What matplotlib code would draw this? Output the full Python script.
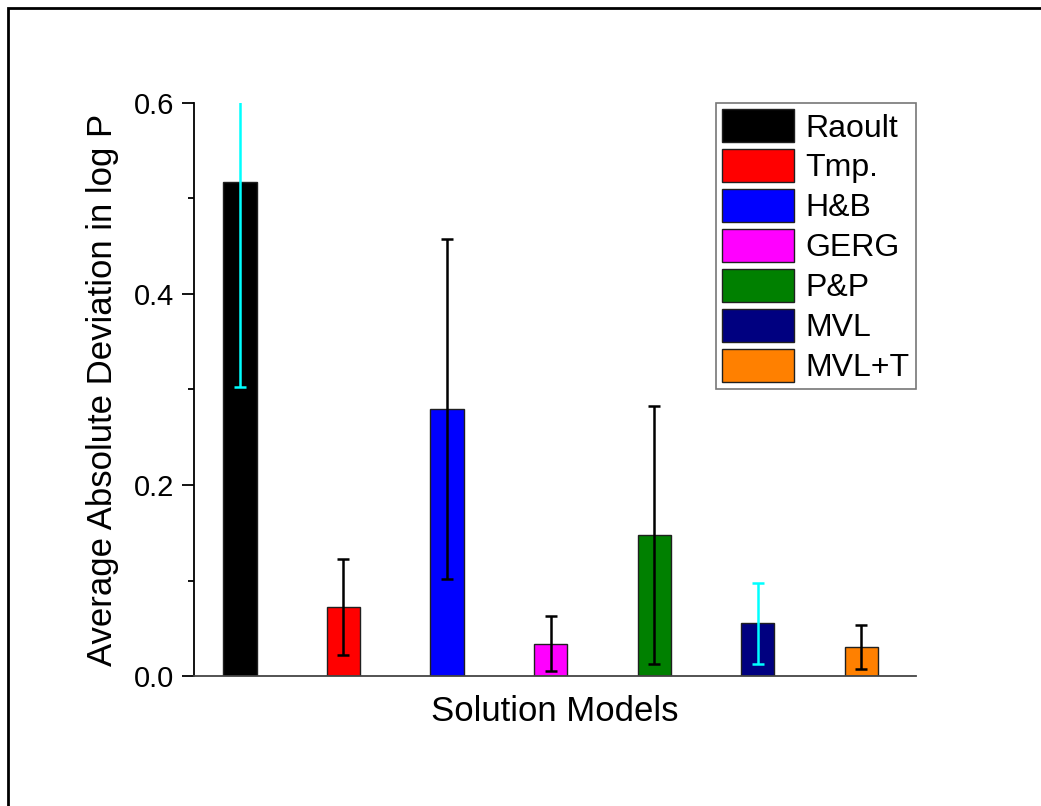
import matplotlib
matplotlib.use('Agg')
import matplotlib.pyplot as plt
from matplotlib.patches import Rectangle
from matplotlib.ticker import MultipleLocator, FormatStrFormatter

plt.rcParams['font.family'] = ['Liberation Sans', 'DejaVu Sans']

# data
models = ['Raoult', 'Tmp.', 'H&B', 'GERG', 'P&P', 'MVL', 'MVL+T']
aad = [0.517, 0.072, 0.280, 0.034, 0.148, 0.055, 0.030]
aad_err = [0.214, 0.050, 0.178, 0.029, 0.135, 0.042, 0.023]

# styles
bar_colors = ['#000000', '#FF0000', '#0000FF', '#FF00FF', '#008000', '#000080', '#FF8000']
err_colors = ['#00FFFF', 'black', 'black', 'black', 'black', '#00FFFF', 'black']

fig = plt.figure(figsize=(10.41, 8.06), dpi=100)
ax = fig.add_axes([194/1041, 130/806, 722/1041, 573/806])

for i, m in enumerate(models):
    ax.bar(i, aad[i], width=0.32, color=bar_colors[i], edgecolor='#202020',
           linewidth=1.0, label=m, zorder=2)
    ax.errorbar(i, aad[i], yerr=aad_err[i], fmt='none', ecolor=err_colors[i],
                elinewidth=1.8, capsize=4.5, capthick=1.8, zorder=3)

ax.set_xlim(-0.444, 6.53)
ax.set_ylim(0, 0.6)
ax.set_xticks([])
ax.yaxis.set_major_locator(MultipleLocator(0.2))
ax.yaxis.set_minor_locator(MultipleLocator(0.1))
ax.yaxis.set_major_formatter(FormatStrFormatter('%.1f'))
ax.tick_params(axis='y', which='major', length=9, width=1.3, labelsize=21, pad=5)
ax.tick_params(axis='y', which='minor', length=4.5, width=1.3)

ax.spines['top'].set_visible(False)
ax.spines['right'].set_visible(False)
ax.spines['left'].set_linewidth(1.3)
ax.spines['bottom'].set_linewidth(1.3)
ax.spines['bottom'].set_color('#444444')

ax.set_xlabel('Solution Models', fontsize=25, labelpad=14)
ax.set_ylabel('Average Absolute Deviation in log P', fontsize=25, labelpad=11)

leg = ax.legend(loc='upper right', bbox_to_anchor=(1.0, 1.0), fontsize=23,
                frameon=True, fancybox=False, edgecolor='#555555',
                handlelength=2.25, handleheight=1.2, labelspacing=0.18,
                handletextpad=0.35, borderpad=0.2, borderaxespad=0)
leg.get_frame().set_linewidth(1.2)

# outer frame around the figure
fig.patches.append(Rectangle((8/1041, -0.1), 1.2, 1.1 - 8/806, transform=fig.transFigure,
                             fill=False, edgecolor='black', linewidth=2, figure=fig))

fig.savefig('out.png', dpi=100)
